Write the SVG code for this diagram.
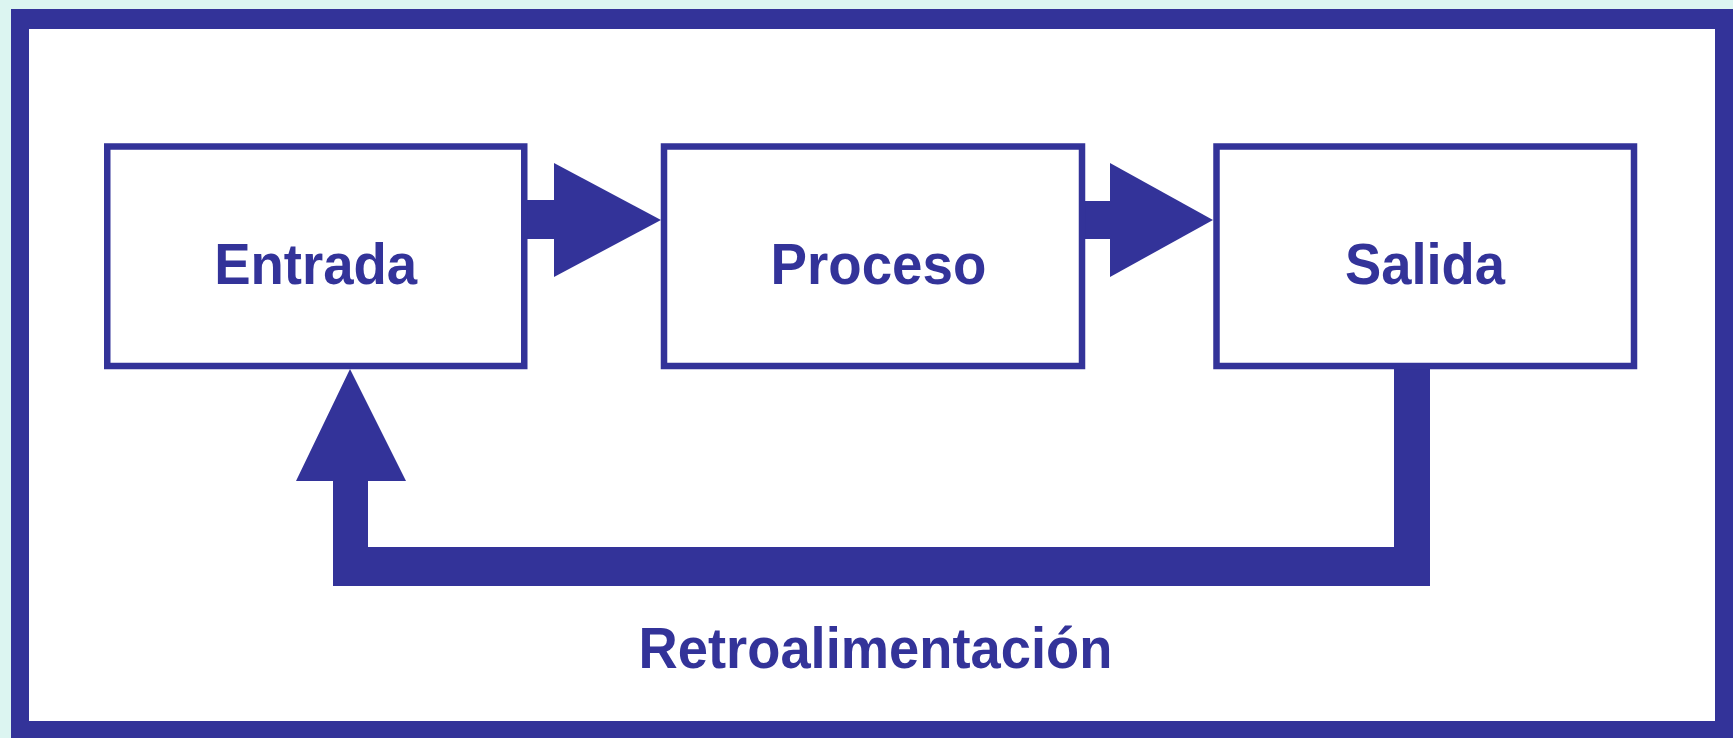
<svg xmlns="http://www.w3.org/2000/svg" width="1733" height="738" viewBox="0 0 1733 738">
  <style>
    .box { fill: #ffffff; stroke: #333399; stroke-width: 6.5; }
    .lbl { font-family: "Liberation Sans", Arial, sans-serif; font-weight: bold; font-size: 58px; fill: #333399; text-anchor: middle; }
    .conn { fill: #333399; stroke: none; }
  </style>
  <rect x="0" y="0" width="1733" height="738" fill="#dcf5f1"/>
  <rect x="11" y="9" width="1722" height="729" fill="#333399"/>
  <rect x="29" y="29" width="1686" height="692" fill="#ffffff"/>

  <g id="connectors">
    <rect class="conn" x="526" y="200" width="29" height="39"/>
    <polygon class="conn" points="554,163 554,277 661,220"/>
    <rect class="conn" x="1084" y="201" width="27" height="38"/>
    <polygon class="conn" points="1110,163 1110,277 1213,220"/>
    <path class="conn" d="M1394,368 L1430,368 L1430,586 L333,586 L333,481 L296,481 L350,369 L406,481 L368,481 L368,547 L1394,547 Z"/>
  </g>

  <g id="entrada">
    <rect class="box" x="107.25" y="146.5" width="417" height="219.5"/>
    <text class="lbl" x="315.7" y="284" textLength="203" lengthAdjust="spacingAndGlyphs">Entrada</text>
  </g>
  <g id="proceso">
    <rect class="box" x="664" y="146.5" width="418" height="219.5"/>
    <text class="lbl" x="878.4" y="284" textLength="216" lengthAdjust="spacingAndGlyphs">Proceso</text>
  </g>
  <g id="salida">
    <rect class="box" x="1216.5" y="146.5" width="417.5" height="219.5"/>
    <text class="lbl" x="1425" y="284" textLength="160" lengthAdjust="spacingAndGlyphs">Salida</text>
  </g>
  <g id="retroalimentacion">
    <text class="lbl" x="875.5" y="668" textLength="474" lengthAdjust="spacingAndGlyphs">Retroalimentación</text>
  </g>
</svg>
